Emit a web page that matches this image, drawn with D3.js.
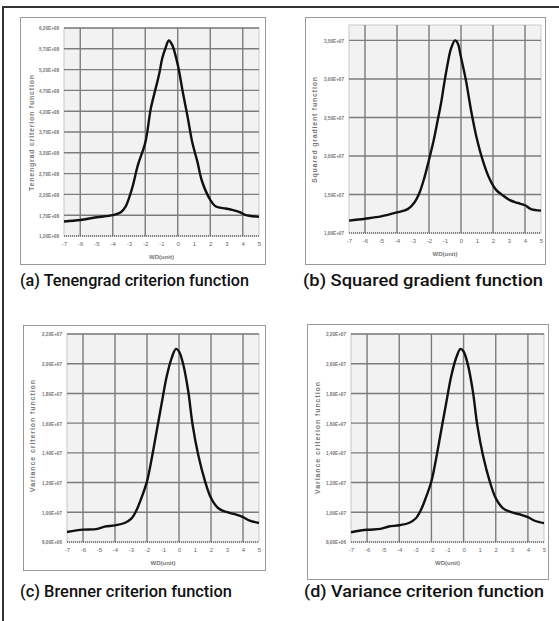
<!DOCTYPE html>
<html>
<head>
<meta charset="utf-8">
<script src="https://cdn.jsdelivr.net/npm/d3@7"></script>
<style>
  body { margin: 0; background: #fff; }
  svg { display: block; }
</style>
</head>
<body>
<div id="chart"></div>
<script>
let w = 559;
let h = 621;

// x positions (WD, unit) and values
let wdA = [-7, -6, -5, -4, -3.5, -3.2, -3.0, -2.75, -2.45, -2, -1.65, -1.35, -1.15, -0.95, -0.75, -0.55, -0.35, 0, 0.3, 0.6, 0.9, 1.2, 1.5, 2.0, 2.35, 2.95, 3.35, 3.85, 4.15, 5];
let tenengrad = [1.55, 1.585, 1.65, 1.70, 1.77, 1.91, 2.11, 2.43, 2.91, 3.44, 4.28, 4.76, 5.08, 5.48, 5.72, 5.90, 5.80, 5.32, 4.68, 4.08, 3.44, 3.0, 2.51, 2.07, 1.91, 1.86, 1.83, 1.77, 1.71, 1.66];

let wdB = [-7, -6, -5, -4, -3.33, -2.9, -2.6, -2.3, -2, -1.7, -1.45, -1.25, -1.05, -0.83, -0.63, -0.37, -0.2, 0, 0.31, 0.63, 0.94, 1.35, 1.77, 2.19, 2.6, 3.02, 3.54, 4, 4.375, 5];
let squaredGradient = [1.16, 1.185, 1.215, 1.267, 1.31, 1.40, 1.52, 1.71, 1.95, 2.21, 2.47, 2.68, 2.94, 3.20, 3.39, 3.50, 3.46, 3.28, 2.98, 2.59, 2.27, 1.95, 1.71, 1.56, 1.49, 1.43, 1.39, 1.36, 1.31, 1.29];

let wdC = [-7, -6, -5.17, -4.65, -4, -3.4, -2.98, -2.67, -2.35, -2, -1.7, -1.4, -1.08, -0.77, -0.46, -0.19, 0, 0.27, 0.58, 0.85, 1.2, 1.63, 2, 2.44, 2.96, 3.58, 4, 4.42, 5];
let brenner = [0.867, 0.883, 0.887, 0.903, 0.912, 0.928, 0.957, 1.011, 1.096, 1.208, 1.365, 1.544, 1.735, 1.914, 2.038, 2.10, 2.083, 1.993, 1.813, 1.589, 1.387, 1.208, 1.096, 1.029, 1.002, 0.984, 0.968, 0.944, 0.928];

let wdD = [-7, -6, -5.17, -4.65, -4, -3.4, -2.98, -2.67, -2.35, -2, -1.7, -1.4, -1.08, -0.77, -0.46, -0.19, 0, 0.27, 0.58, 0.85, 1.2, 1.63, 2, 2.44, 2.96, 3.58, 4, 4.42, 5];
let variance = [0.866, 0.882, 0.888, 0.904, 0.913, 0.928, 0.958, 1.012, 1.097, 1.209, 1.366, 1.545, 1.736, 1.915, 2.04, 2.10, 2.082, 1.992, 1.812, 1.588, 1.386, 1.207, 1.095, 1.028, 1.001, 0.983, 0.967, 0.943, 0.927];

let xTicks = [-7, -6, -5, -4, -3, -2, -1, 0, 1, 2, 3, 4, 5];
let xGrid = [-6, -4, -2, 0, 2, 4];
let ticksA = [1.2, 1.7, 2.2, 2.7, 3.2, 3.7, 4.2, 4.7, 5.2, 5.7, 6.2];
let labelsA = ["1,20E+08", "1,70E+08", "2,20E+08", "2,70E+08", "3,20E+08", "3,70E+08", "4,20E+08", "4,70E+08", "5,20E+08", "5,70E+08", "6,20E+08"];
let ticksB = [1.0, 1.5, 2.0, 2.5, 3.0, 3.5];
let labelsB = ["1,00E+07", "1,50E+07", "2,00E+07", "2,50E+07", "3,00E+07", "3,50E+07"];
let ticksCD = [0.8, 1.0, 1.2, 1.4, 1.6, 1.8, 2.0, 2.2];
let labelsCD = ["8,00E+06", "1,00E+07", "1,20E+07", "1,40E+07", "1,60E+07", "1,80E+07", "2,00E+07", "2,20E+07"];

let svg = d3.select("#chart")
            .append("svg")
            .attr("width", w)
            .attr("height", h);

// outer frame (top and left edges only are visible)
svg.append("path")
   .attr("d", `M3,${h} L3,7 L${w},7`)
   .attr("fill", "none")
   .attr("stroke", "#333")
   .attr("stroke-width", 2);

let panels = [
  { xs: wdA, ys: tenengrad, ticks: ticksA, labels: labelsA, yDomain: [1.2, 6.2],
    yTitle: "Tenengrad criterion function", caption: "(a) Tenengrad criterion function",
    box: { x: 20, y: 17, w: 245, h: 247 }, plot: { x: 64, y: 28, w: 195, h: 208 },
    titleX: 32, titleY: 133, titleLen: 116, capX: 20, capY: 286, capLen: 229 },
  { xs: wdB, ys: squaredGradient, ticks: ticksB, labels: labelsB, yDomain: [1.0, 3.7],
    yTitle: "Squared gradient function", caption: "(b) Squared gradient function",
    box: { x: 305, y: 17, w: 240, h: 247 }, plot: { x: 349, y: 25, w: 192, h: 208 },
    titleX: 315, titleY: 130, titleLen: 106, capX: 303, capY: 286, capLen: 240 },
  { xs: wdC, ys: brenner, ticks: ticksCD, labels: labelsCD, yDomain: [0.8, 2.2],
    yTitle: "Variance criterion function", caption: "(c) Brenner criterion function",
    box: { x: 23, y: 325, w: 242, h: 245 }, plot: { x: 67, y: 334, w: 192, h: 208 },
    titleX: 33, titleY: 436, titleLen: 112, capX: 20, capY: 597, capLen: 212 },
  { xs: wdD, ys: variance, ticks: ticksCD, labels: labelsCD, yDomain: [0.8, 2.2],
    yTitle: "Variance criterion function", caption: "(d) Variance criterion function",
    box: { x: 307, y: 324, w: 241, h: 255 }, plot: { x: 351, y: 334, w: 193, h: 208 },
    titleX: 318, titleY: 438, titleLen: 112, capX: 304, capY: 597, capLen: 240 }
];

panels.forEach((p) => {
  let g = svg.append("g");

  g.append("rect")
   .attr("x", p.box.x + 0.5)
   .attr("y", p.box.y + 0.5)
   .attr("width", p.box.w)
   .attr("height", p.box.h)
   .attr("fill", "#fff")
   .attr("stroke", "#9a9a9a");

  let xScale = d3.scaleLinear([-7, 5], [p.plot.x, p.plot.x + p.plot.w]);
  let yScale = d3.scaleLinear(p.yDomain, [p.plot.y + p.plot.h, p.plot.y]);

  g.append("rect")
   .attr("x", p.plot.x)
   .attr("y", p.plot.y)
   .attr("width", p.plot.w)
   .attr("height", p.plot.h)
   .attr("fill", "#f2f2f2")
   .attr("stroke", "#c8c8c8");

  // horizontal gridlines
  g.selectAll(".hgrid")
   .data(p.ticks.slice(1))
   .enter()
   .append("line")
   .attr("x1", p.plot.x)
   .attr("x2", p.plot.x + p.plot.w)
   .attr("y1", (d) => yScale(d))
   .attr("y2", (d) => yScale(d))
   .attr("stroke", "#7c7c7c")
   .attr("stroke-width", 1.4);

  // vertical gridlines
  g.selectAll(".vgrid")
   .data(xGrid)
   .enter()
   .append("line")
   .attr("x1", (d) => xScale(d))
   .attr("x2", (d) => xScale(d))
   .attr("y1", p.plot.y)
   .attr("y2", p.plot.y + p.plot.h)
   .attr("stroke", "#7c7c7c")
   .attr("stroke-width", 1.4);

  // x axis line, dotted
  g.append("line")
   .attr("x1", p.plot.x)
   .attr("x2", p.plot.x + p.plot.w)
   .attr("y1", p.plot.y + p.plot.h)
   .attr("y2", p.plot.y + p.plot.h)
   .attr("stroke", "#666")
   .attr("stroke-width", 1.5)
   .attr("stroke-dasharray", "1,1");

  let xAxis = d3.axisBottom(xScale).tickValues(xTicks).tickSize(0).tickPadding(6);
  let xg = g.append("g")
            .attr("transform", `translate(0,${p.plot.y + p.plot.h})`)
            .call(xAxis);
  xg.select(".domain").remove();
  xg.selectAll("text")
    .attr("font-family", "Liberation Sans, Arial, sans-serif")
    .attr("font-size", 6)
    .attr("fill", "#666")
    .text((d) => (d < 0 ? "-" + Math.abs(d) : d));

  let yAxis = d3.axisLeft(yScale).tickValues(p.ticks).tickSize(0).tickPadding(5)
                .tickFormat((d, i) => p.labels[i]);
  let yg = g.append("g")
            .attr("transform", `translate(${p.plot.x},0)`)
            .call(yAxis);
  yg.select(".domain").remove();
  yg.selectAll("text")
    .attr("font-family", "Liberation Sans, Arial, sans-serif")
    .attr("font-size", 6)
    .attr("font-weight", "bold")
    .attr("fill", "#777")
    .attr("textLength", 20)
    .attr("lengthAdjust", "spacingAndGlyphs");

  g.append("text")
   .attr("x", xScale(-1))
   .attr("y", p.plot.y + p.plot.h + 23)
   .attr("text-anchor", "middle")
   .attr("font-family", "Liberation Sans, Arial, sans-serif")
   .attr("font-size", 6)
   .attr("font-weight", "bold")
   .attr("fill", "#777")
   .text("WD(unit)");

  g.append("text")
   .attr("transform", `translate(${p.titleX},${p.titleY}) rotate(-90)`)
   .attr("text-anchor", "middle")
   .attr("dy", "0.35em")
   .attr("font-family", "Liberation Sans, Arial, sans-serif")
   .attr("font-size", 7)
   .attr("font-weight", "bold")
   .attr("fill", "#777")
   .attr("textLength", p.titleLen)
   .attr("lengthAdjust", "spacing")
   .text(p.yTitle);

  let line = d3.line()
               .x((d, i) => xScale(p.xs[i]))
               .y((d) => yScale(d))
               .curve(d3.curveCatmullRom);

  g.append("path")
   .datum(p.ys)
   .attr("d", line)
   .attr("fill", "none")
   .attr("stroke", "#111")
   .attr("stroke-width", 2.4);

  svg.append("text")
     .attr("x", p.capX)
     .attr("y", p.capY)
     .attr("font-family", "Roboto, Liberation Sans, sans-serif")
     .attr("font-size", 17)
     .attr("font-weight", 500)
     .attr("fill", "#111")
     .attr("textLength", p.capLen)
     .attr("lengthAdjust", "spacingAndGlyphs")
     .text(p.caption);
});
</script>
</body>
</html>
